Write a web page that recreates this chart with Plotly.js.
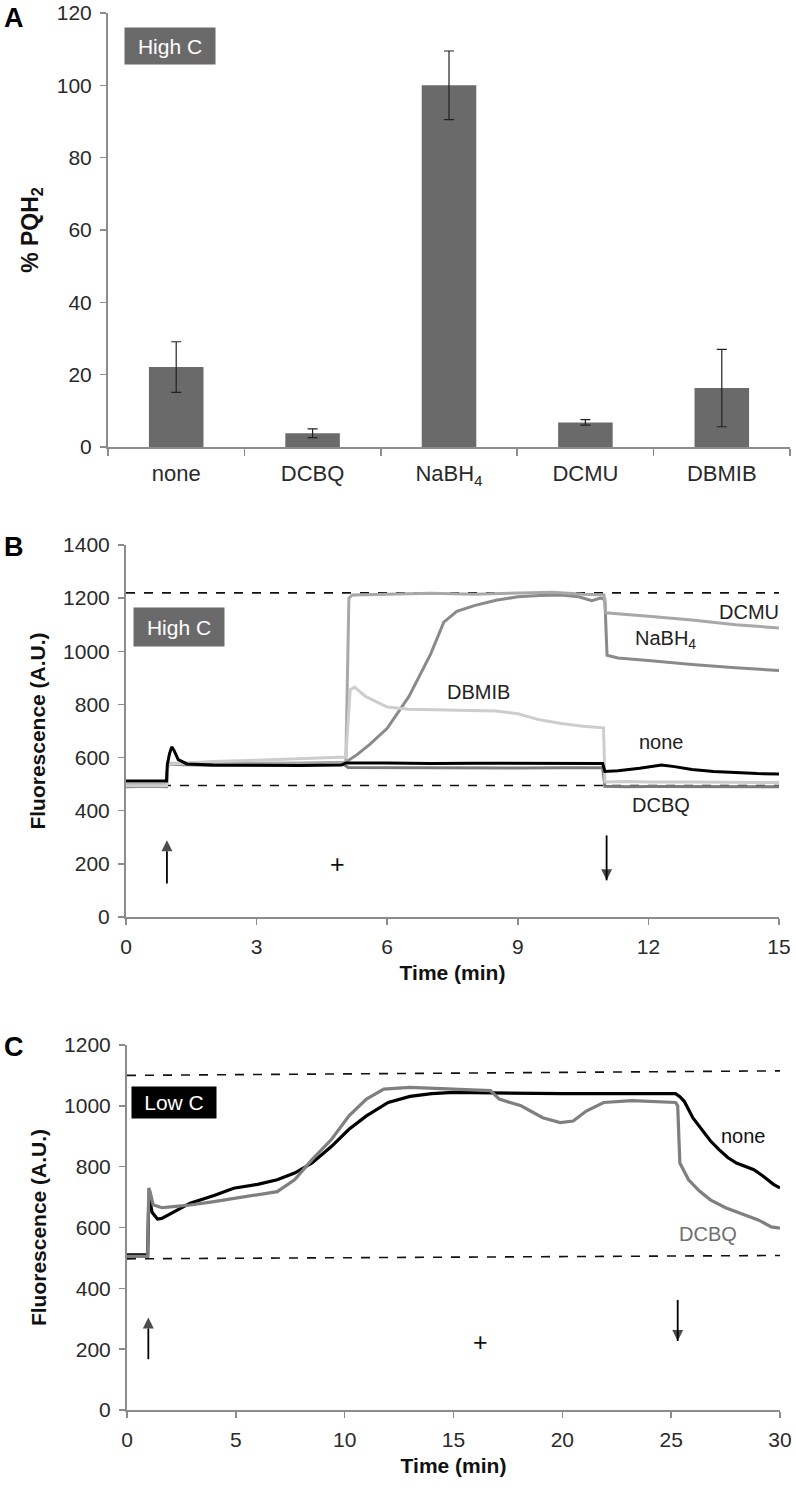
<!DOCTYPE html>
<html><head><meta charset="utf-8">
<script src="https://cdn.plot.ly/plotly-3.0.1.min.js"></script>
<style>body{margin:0;background:#fff}#chart{width:796px;height:1490px}</style>
</head><body><div id="chart"></div>
<script>
// ---------- Panel A data ----------
const aCategories = ['none', 'DCBQ', 'NaBH<sub>4</sub>', 'DCMU', 'DBMIB'];
const aValues = [22.1, 3.8, 100, 6.8, 16.3];
const aErrors = [7.0, 1.2, 9.5, 0.75, 10.7];
const aTicks = [0, 20, 40, 60, 80, 100, 120];

// ---------- Panel B data (Time, min / Fluorescence) ----------
const bNoneT = [0, 0.5, 0.93, 0.95, 1.0, 1.05, 1.1, 1.2, 1.4, 2, 3, 4, 4.95, 5.05, 6, 7, 8, 9, 10, 10.95, 11.0, 11.3, 11.8, 12.3, 12.6, 13, 13.5, 14, 14.5, 15];
const bNoneY = [512, 512, 512, 575, 615, 640, 628, 592, 576, 572, 570, 570, 572, 580, 580, 578, 579, 578, 578, 578, 548, 550, 560, 572, 566, 555, 548, 543, 540, 538];
const bDcbqT = [0, 0.5, 0.93, 0.96, 1.5, 2, 3, 4, 5, 5.1, 6, 7, 8, 9, 10, 10.95, 11.0, 11.5, 12, 13, 14, 15];
const bDcbqY = [490, 492, 490, 578, 575, 572, 573, 574, 575, 563, 562, 561, 562, 561, 562, 562, 492, 490, 491, 490, 490, 490];
const bDcmuT = [0, 0.5, 0.93, 0.96, 1.5, 2, 3, 4, 5.05, 5.12, 5.2, 6, 7, 8, 9, 9.8, 10.5, 10.98, 11.02, 11.5, 12, 13, 14, 15];
const bDcmuY = [497, 497, 497, 578, 580, 578, 578, 580, 582, 1200, 1212, 1215, 1218, 1215, 1218, 1222, 1215, 1212, 1145, 1140, 1132, 1118, 1100, 1088];
const bNabh4T = [0, 0.5, 0.93, 0.96, 1.5, 2, 3, 4, 5.0, 5.3, 5.6, 6.0, 6.5, 7.0, 7.3, 7.6, 8, 8.5, 9, 9.5, 10, 10.4, 10.7, 10.9, 11.0, 11.05, 11.3, 12, 13, 14, 15];
const bNabh4Y = [497, 497, 497, 575, 572, 570, 572, 575, 578, 610, 650, 710, 830, 990, 1110, 1150, 1172, 1192, 1205, 1210, 1212, 1205, 1190, 1200, 1195, 985, 975, 965, 950, 938, 928];
const bDbmibT = [0, 0.5, 0.93, 0.96, 1.5, 2, 3, 4, 4.95, 5.05, 5.15, 5.25, 5.5, 6, 6.5, 7, 8, 8.5, 9, 9.5, 10, 10.5, 10.97, 11.0, 11.5, 12, 13, 14, 15];
const bDbmibY = [494, 494, 494, 575, 580, 585, 590, 595, 600, 602, 855, 865, 830, 790, 782, 780, 778, 775, 765, 742, 728, 718, 712, 508, 510, 508, 508, 507, 506];
const bDashT = [0, 15];
const bFmY = [1220, 1220];
const bFoY = [495, 495];
const bYTicks = [0, 200, 400, 600, 800, 1000, 1200, 1400];
const bXTicks = [0, 3, 6, 9, 12, 15];
// light-on / light-off arrows (tail, head)
const bArrowOnT = [0.94, 0.94];
const bArrowOnY = [126, 289];
const bArrowOffT = [11.04, 11.04];
const bArrowOffY = [307, 138];

// ---------- Panel C data ----------
const cNoneT = [0, 0.95, 1.0, 1.05, 1.15, 1.4, 1.6, 2.0, 2.9, 4, 4.9, 6, 6.9, 7.7, 8.5, 9.4, 10.2, 11.0, 12, 13, 14, 15, 17, 20, 23, 25.2, 25.4, 25.6, 26.0, 26.4, 26.8, 27.2, 27.6, 28.0, 28.4, 28.8, 29.2, 29.7, 30];
const cNoneY = [510, 510, 700, 690, 650, 628, 630, 645, 680, 705, 729, 742, 757, 779, 812, 867, 923, 967, 1011, 1031, 1040, 1044, 1042, 1040, 1040, 1040, 1030, 1015, 960, 923, 885, 856, 830, 812, 800, 790, 770, 742, 730];
const cDcbqT = [0, 0.95, 1.0, 1.05, 1.2, 1.6, 2.0, 2.9, 4, 4.9, 6, 6.9, 7.7, 8.5, 9.4, 10.2, 11.0, 11.8, 13, 15, 16.2, 16.7, 17.1, 18.1, 19.1, 19.9, 20.5, 21.1, 21.9, 23.2, 25.2, 25.3, 25.4, 25.8, 26.3, 26.8, 27.5, 28.2, 29, 29.6, 30];
const cDcbqY = [505, 505, 730, 720, 675, 665, 668, 674, 685, 696, 708, 718, 757, 823, 890, 967, 1022, 1055, 1061, 1055, 1052, 1050, 1022, 1000, 961, 945, 950, 983, 1011, 1017, 1011, 1000, 812, 757, 720, 691, 665, 646, 625, 602, 598];
const cDashT = [0, 30];
const cFmY = [1100, 1115];
const cFoY = [497, 508];
const cYTicks = [0, 200, 400, 600, 800, 1000, 1200];
const cXTicks = [0, 5, 10, 15, 20, 25, 30];
const cArrowOnT = [0.98, 0.98];
const cArrowOnY = [167, 304];
const cArrowOffT = [25.3, 25.3];
const cArrowOffY = [362, 227];

const FONT = '"Liberation Sans Narrow", "Arial Narrow", "Liberation Sans", Arial, sans-serif';
const BOLD = '"Liberation Sans", Arial, sans-serif';
const AX = '#8c8c8c';
const W = 796, H = 1490;
const px = v => v / W;
const py = v => 1 - v / H;

function line(x, y, color, width, xa, ya, dash) {
  return {type: 'scatter', mode: 'lines', x: x, y: y, xaxis: xa, yaxis: ya,
    line: {color: color, width: width, dash: dash || 'solid'}, showlegend: false, hoverinfo: 'skip'};
}
function arrowTrace(x, y, xa, ya, up) {
  return {type: 'scatter', mode: 'lines+markers', x: x, y: y, xaxis: xa, yaxis: ya,
    line: {color: '#000', width: 1.8},
    marker: {symbol: up ? 'arrow-up' : 'arrow-down', size: [0, 11], color: '#000', line: {width: 0}},
    showlegend: false, hoverinfo: 'skip', cliponaxis: false};
}

const traces = [
  {type: 'bar', x: aCategories, y: aValues, xaxis: 'x', yaxis: 'y',
   marker: {color: '#6a6a6a'},
   error_y: {type: 'data', array: aErrors, visible: true, color: '#222', thickness: 1.2, width: 5},
   showlegend: false},
  line(bDashT, bFmY, '#111', 1.6, 'x2', 'y2', 'dash'),
  line(bDashT, bFoY, '#111', 1.6, 'x2', 'y2', 'dash'),
  line(bDcbqT, bDcbqY, '#7a7a7a', 3, 'x2', 'y2'),
  line(bNabh4T, bNabh4Y, '#8a8a8a', 3, 'x2', 'y2'),
  line(bDcmuT, bDcmuY, '#a8a8a8', 3, 'x2', 'y2'),
  line(bDbmibT, bDbmibY, '#cdcdcd', 3, 'x2', 'y2'),
  line(bNoneT, bNoneY, '#000', 3, 'x2', 'y2'),
  arrowTrace(bArrowOnT, bArrowOnY, 'x2', 'y2', true),
  arrowTrace(bArrowOffT, bArrowOffY, 'x2', 'y2', false),
  line(cDashT, cFmY, '#111', 1.6, 'x3', 'y3', 'dash'),
  line(cDashT, cFoY, '#111', 1.6, 'x3', 'y3', 'dash'),
  line(cNoneT, cNoneY, '#000', 3.2, 'x3', 'y3'),
  line(cDcbqT, cDcbqY, '#7f7f7f', 3.2, 'x3', 'y3'),
  arrowTrace(cArrowOnT, cArrowOnY, 'x3', 'y3', true),
  arrowTrace(cArrowOffT, cArrowOffY, 'x3', 'y3', false)
];

const tickfont = {family: FONT, size: 21, color: '#2a2a2a'};
const titlefont = {family: BOLD, size: 21, color: '#111', weight: 'bold'};

function yax(domain, range, ticks, title, anchor, tf) {
  return {domain: domain, range: range, tickvals: ticks, anchor: anchor,
    showline: true, linecolor: AX, linewidth: 2, ticks: 'outside', ticklen: 6, tickcolor: AX, tickwidth: 1.5,
    showgrid: false, zeroline: false, tickfont: tickfont, fixedrange: true, ticklabelstandoff: 4,
    title: {text: title, font: tf || titlefont, standoff: 12}};
}
function xax(domain, range, ticks, title, anchor) {
  return {domain: domain, range: range, tickvals: ticks, anchor: anchor,
    showline: true, linecolor: AX, linewidth: 2, ticks: 'outside', ticklen: 6, tickcolor: AX, tickwidth: 1.5,
    showgrid: false, zeroline: false, tickfont: tickfont, fixedrange: true, ticklabelstandoff: 4,
    title: {text: title, font: titlefont, standoff: 8}};
}

function boxNote(text, x, y, w, h, bg) {
  return {text: text, xref: 'paper', yref: 'paper', x: px(x), y: py(y), xanchor: 'center', yanchor: 'middle',
    showarrow: false, width: w, height: h, bgcolor: bg, font: {family: FONT, size: 21, color: '#fff'}};
}
function panelLabel(text, x, y) {
  return {text: '<b>' + text + '</b>', xref: 'paper', yref: 'paper', x: px(x), y: py(y), xanchor: 'center', yanchor: 'middle',
    showarrow: false, font: {family: BOLD, size: 27, color: '#000'}};
}
function dataNote(text, xa, ya, x, y, color, size) {
  return {text: text, xref: xa, yref: ya, x: x, y: y, xanchor: 'center', yanchor: 'middle', showarrow: false,
    font: {family: FONT, size: size || 20, color: color || '#222'}};
}

const layout = {
  width: W, height: H,
  margin: {l: 0, r: 0, t: 0, b: 0},
  paper_bgcolor: '#fff', plot_bgcolor: '#fff',
  showlegend: false, bargap: 0.6,
  font: {family: FONT, color: '#222'},
  xaxis: {domain: [px(108), px(790)], range: [-0.5, 4.5], type: 'category', anchor: 'y',
    showline: true, linecolor: AX, linewidth: 2, ticks: 'outside', tickson: 'boundaries', ticklen: 7,
    tickcolor: AX, tickwidth: 1.5, showgrid: false, tickfont: {family: FONT, size: 22, color: '#2a2a2a'},
    ticklabelstandoff: 6, fixedrange: true},
  yaxis: yax([py(447), py(13)], [0, 120], aTicks, '% PQH<sub>2</sub>', 'x', {family: BOLD, size: 23, color: '#111', weight: 'bold'}),
  xaxis2: xax([px(126), px(779)], [0, 15], bXTicks, 'Time (min)', 'y2'),
  yaxis2: yax([py(917), py(545)], [0, 1400], bYTicks, 'Fluorescence (A.U.)', 'x2'),
  xaxis3: xax([px(127), px(780)], [0, 30], cXTicks, 'Time (min)', 'y3'),
  yaxis3: yax([py(1410), py(1045)], [0, 1200], cYTicks, 'Fluorescence (A.U.)', 'x3'),
  annotations: [
    panelLabel('A', 14, 18),
    panelLabel('B', 14, 547),
    panelLabel('C', 14, 1047),
    boxNote('High C', 170, 46, 88, 34, '#6a6a6a'),
    boxNote('High C', 179, 627, 88, 36, '#6a6a6a'),
    boxNote('Low C', 174, 1102, 82, 29, '#000'),
    // Panel B labels
    dataNote('DCMU', 'x2', 'y2', 14.3, 1148),
    dataNote('NaBH<sub>4</sub>', 'x2', 'y2', 12.4, 1045),
    dataNote('DBMIB', 'x2', 'y2', 8.1, 848),
    dataNote('none', 'x2', 'y2', 12.3, 660),
    dataNote('DCBQ', 'x2', 'y2', 12.3, 420),
    dataNote('+', 'x2', 'y2', 4.86, 200, '#111', 25),
    // Panel C labels
    dataNote('none', 'x3', 'y3', 28.3, 900, '#111'),
    dataNote('DCBQ', 'x3', 'y3', 26.7, 578, '#6f6f6f'),
    dataNote('+', 'x3', 'y3', 16.26, 222, '#111', 25)
  ]
};

Plotly.newPlot('chart', traces, layout, {staticPlot: true, displayModeBar: false});
</script>
</body></html>
